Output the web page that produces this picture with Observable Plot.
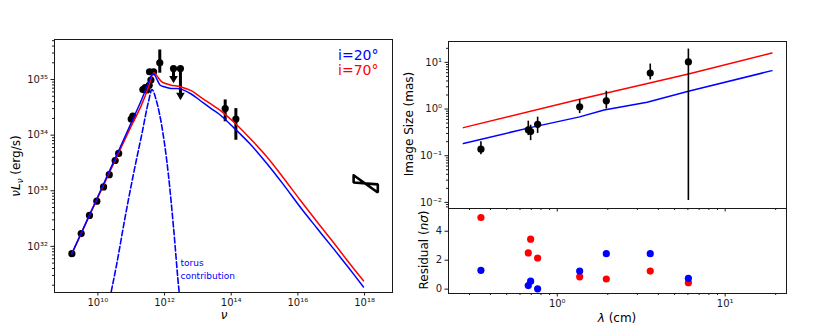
<!DOCTYPE html>
<html><head><meta charset="utf-8">
<script src="https://cdn.jsdelivr.net/npm/d3@7"></script>
<script src="https://cdn.jsdelivr.net/npm/@observablehq/plot@0.6"></script>
<style>
body{margin:0;background:#fff;}
#wrap{position:relative;width:830px;height:329px;overflow:hidden;background:#fff;}
#wrap svg{position:absolute;overflow:visible;}
</style></head><body><div id="wrap"></div>
<script>
// ---------- Left panel: SED ----------
const sedNu = [1.66e9, 3.16e9, 5.6e9, 9.3e9, 1.48e10, 2.2e10, 3.3e10, 4.2e10, 1.0e11, 1.12e11, 2.24e11, 2.63e11, 2.95e11, 3.47e11, 3.9e11, 3.55e11, 4.7e11, 7.2e11, 6.6e13, 1.38e14];
const sedL  = [7.4e31, 1.7e32, 3.6e32, 6.5e32, 1.17e33, 1.95e33, 3.5e33, 4.7e33, 1.95e34, 2.2e34, 6.6e34, 7.2e34, 6.5e34, 7.9e34, 9.8e34, 1.38e35, 1.38e35, 2.0e35, 3.0e34, 1.95e34];
const errNu = [7.2e11, 6.6e13, 1.38e14];
const errLo = [1.3e35, 1.74e34, 8.1e33];
const errHi = [3.4e35, 4.3e34, 3.0e34];
const limNu = [1.86e12, 3.0e12];
const limL = [1.58e35, 1.58e35];
const limTip = [1.05e35, 5.2e34];
const xrayNu = [4.7e17, 2.5e18];
const xrayHi = [1.9e33, 1.30e33];
const xrayLo = [1.41e33, 9.3e32];
const mod20Nu = [1.66e9, 1e10, 3.16e10, 1e11, 2e11, 3.16e11, 4.37e11, 5.0e11, 5.75e11, 7.41e11, 1e12, 1.58e12, 2.95e12, 6.3e12, 1.17e13, 2.5e13, 4.68e13, 1.17e14, 3.7e14, 1.17e15, 3.7e15, 1.17e16, 3.7e16, 1.17e17, 3.16e17, 9.3e17];
const mod20L  = [7.4e31, 7.9e32, 3.6e33, 1.66e34, 4.2e34, 8.3e34, 1.26e35, 1.22e35, 1.05e35, 7.9e34, 7.4e34, 6.9e34, 6.8e34, 5.5e34, 4.2e34, 3.0e34, 2.3e34, 1.38e34, 6.9e33, 3.1e33, 1.29e33, 5.1e32, 2.14e32, 9.1e31, 4.3e31, 1.86e31];
const mod70Nu = [1.66e9, 1e10, 3.16e10, 1e11, 2e11, 3.16e11, 4.17e11, 4.79e11, 5.89e11, 8.3e11, 1.48e12, 2.95e12, 6.3e12, 1.17e13, 2.5e13, 4.68e13, 1.17e14, 3.7e14, 1.17e15, 3.7e15, 1.17e16, 3.7e16, 1.17e17, 3.16e17, 9.3e17];
const mod70L  = [7.4e31, 7.6e32, 3.35e33, 1.45e34, 3.4e34, 6.8e34, 1.15e35, 1.32e35, 1.17e35, 9.1e34, 8.0e34, 7.4e34, 6.3e34, 4.9e34, 3.6e34, 2.8e34, 1.74e34, 8.7e33, 4.1e33, 1.7e33, 6.8e32, 2.8e32, 1.17e32, 5.4e31, 2.4e31];
const torusNu = [2.0e10, 3.7e10, 6.6e10, 1.17e11, 2.1e11, 3.3e11, 4.2e11, 5.6e11, 9.0e11, 1.3e12, 1.86e12, 2.75e12, 3.5e12];
const torusL  = [8e30, 4.9e31, 3.4e32, 2.0e33, 1.07e34, 4.0e34, 6.6e34, 4.3e34, 1.07e34, 2.0e33, 2.2e32, 1.5e31, 5e30];
const leftXTicks = [1e10, 1e12, 1e14, 1e16, 1e18];
const leftYTicks = [1e32, 1e33, 1e34, 1e35];
const legendLabels = ["i=20°", "i=70°"];
const torusLabel = "torus\ncontribution";

// ---------- Right panel: image size & residuals ----------
const lam = [0.351, 0.672, 0.694, 0.764, 1.36, 1.96, 3.58, 6.04];
const size = [0.138, 0.36, 0.33, 0.47, 1.12, 1.5, 5.9, 10.2];
const sizeLo = [0.105, 0.27, 0.21, 0.30, 0.80, 1.0, 4.2, 0.011];
const sizeHi = [0.20, 0.55, 0.45, 0.67, 1.6, 2.4, 9.2, 19.3];
const resid70 = [4.95, 2.5, 3.45, 2.15, 0.85, 0.7, 1.25, 0.45];
const resid20 = [1.3, 0.25, 0.55, 0.02, 1.25, 2.45, 2.45, 0.75];
const size70Lam = [0.276, 1.36, 6.04, 19];
const size70 = [0.40, 1.62, 5.65, 15.9];
const size20Lam = [0.276, 0.69, 1.36, 1.9, 3.43, 6.04, 19];
const size20 = [0.183, 0.40, 0.68, 0.95, 1.40, 2.4, 6.65];
const rightXTicks = [1, 10];
const sizeYTicks = [0.01, 0.1, 1, 10];
const residYTicks = [0, 2, 4];

const RED = "#ff0000", BLUE = "#0000ff", INK = "#1a1a1a";
const supMap = {"0":"⁰","1":"¹","2":"²","3":"³","4":"⁴","5":"⁵","6":"⁶","7":"⁷","8":"⁸","9":"⁹","-":"⁻"};
const pow10 = d => "10" + String(Math.round(Math.log10(d))).split("").map(c => supMap[c]).join("");
function minors(lo, hi) {
  const out = [];
  for (let e = Math.floor(Math.log10(lo)); e <= Math.ceil(Math.log10(hi)); e++)
    for (let k = 2; k <= 9; k++) { const v = k * Math.pow(10, e); if (v >= lo && v <= hi) out.push(v); }
  return out;
}
const zip = (xs, ys) => xs.map((x, i) => ({x, y: ys[i]}));
const style = {fontFamily: "DejaVu Sans", fontSize: "10px", color: INK, background: "transparent"};

// Left
const lxDom = [5.0e8, 6.9e18], lyDom = [1.48e31, 5.25e35];
const bow = [
  {x: xrayNu[0], y: xrayHi[0]}, {x: xrayNu[1], y: xrayLo[1]},
  {x: xrayNu[1], y: xrayHi[1]}, {x: xrayNu[0], y: xrayLo[0]}, {x: xrayNu[0], y: xrayHi[0]}
];
const sedPlot = Plot.plot({
  width: 400, height: 329, marginLeft: 54, marginRight: 8, marginTop: 39, marginBottom: 37,
  style,
  x: {type: "log", domain: lxDom},
  y: {type: "log", domain: lyDom},
  marks: [
    Plot.ruleX(errNu.map((x, i) => ({x, y1: errLo[i], y2: errHi[i]})), {x: "x", y1: "y1", y2: "y2", stroke: "black", strokeWidth: 3}),
    Plot.ruleX(limNu.map((x, i) => ({x, y1: limTip[i], y2: limL[i]})), {x: "x", y1: "y1", y2: "y2", stroke: "black", strokeWidth: 3}),
    Plot.dot(zip(limNu, limTip), {x: "x", y: "y", symbol: "triangle", rotate: 180, r: 3.2, fill: "black"}),
    Plot.dot(zip(limNu, limL), {x: "x", y: "y", r: 3.6, fill: "black"}),
    Plot.dot(zip(sedNu, sedL), {x: "x", y: "y", r: 3.6, fill: "black"}),
    Plot.line(bow, {x: "x", y: "y", stroke: "black", strokeWidth: 2.6, strokeLinejoin: "miter"}),
    Plot.line(zip(torusNu, torusL), {x: "x", y: "y", stroke: BLUE, strokeWidth: 1.6, strokeDasharray: "5.5,2.6", curve: "monotone-x", clip: true}),
    Plot.line(zip(mod70Nu, mod70L), {x: "x", y: "y", stroke: RED, strokeWidth: 1.5, curve: "catmull-rom"}),
    Plot.line(zip(mod20Nu, mod20L), {x: "x", y: "y", stroke: BLUE, strokeWidth: 1.5, curve: "catmull-rom"}),
    Plot.text([torusLabel], {x: 3.0e12, y: 4.0e31, text: d => d, textAnchor: "start", lineAnchor: "middle", fill: BLUE, fontSize: 9, lineHeight: 1.45}),
    Plot.text([legendLabels[0]], {frameAnchor: "top-right", dx: -14, dy: 11, text: d => d, fill: BLUE, fontSize: 14, textAnchor: "end"}),
    Plot.text([legendLabels[1]], {frameAnchor: "top-right", dx: -14, dy: 26, text: d => d, fill: RED, fontSize: 14, textAnchor: "end"}),
    Plot.frame({stroke: INK, strokeWidth: 1}),
    Plot.axisX({ticks: leftXTicks, tickFormat: pow10, tickSize: 3.5, tickPadding: 2.5, label: null}),
    Plot.axisY({ticks: leftYTicks, tickFormat: pow10, tickSize: 3.5, tickPadding: 3, label: null}),
    Plot.axisY({ticks: minors(lyDom[0], lyDom[1]), tickFormat: () => "", tickSize: 2, label: null})
  ]
});
sedPlot.style.left = "0px"; sedPlot.style.top = "0px";

// Right bottom (residuals)
const rxDom = [0.225, 23.2];
const residPlot = Plot.plot({
  width: 430, height: 122, marginLeft: 48, marginRight: 44, marginTop: 1, marginBottom: 36,
  style,
  x: {type: "log", domain: rxDom},
  y: {domain: [-0.3, 5.57]},
  marks: [
    Plot.dot(zip(lam, resid70), {x: "x", y: "y", r: 3.6, fill: RED}),
    Plot.dot(zip(lam, resid20), {x: "x", y: "y", r: 3.6, fill: BLUE}),
    Plot.frame({stroke: INK, strokeWidth: 1}),
    Plot.axisX({ticks: rightXTicks, tickFormat: pow10, tickSize: 3.5, tickPadding: 2.5, label: null}),
    Plot.axisX({ticks: minors(rxDom[0], rxDom[1]), tickFormat: () => "", tickSize: 2, label: null}),
    Plot.axisY({ticks: residYTicks, tickFormat: d => String(d), tickSize: 3.5, tickPadding: 3, label: null})
  ]
});
residPlot.style.left = "400px"; residPlot.style.top = "207px";

// Right top (image size)
const syDom = [0.0074, 28];
const sizeData = lam.map((x, i) => ({x, y: size[i], y1: sizeLo[i], y2: sizeHi[i]}));
const sizePlot = Plot.plot({
  width: 430, height: 208, marginLeft: 48, marginRight: 44, marginTop: 41, marginBottom: 0,
  style,
  x: {type: "log", domain: rxDom},
  y: {type: "log", domain: syDom},
  marks: [
    Plot.line(zip(size70Lam, size70), {x: "x", y: "y", stroke: RED, strokeWidth: 1.5}),
    Plot.line(zip(size20Lam, size20), {x: "x", y: "y", stroke: BLUE, strokeWidth: 1.5}),
    Plot.ruleX(sizeData, {x: "x", y1: "y1", y2: "y2", stroke: "black", strokeWidth: 1.6}),
    Plot.dot(sizeData, {x: "x", y: "y", r: 3.6, fill: "black"}),
    Plot.frame({stroke: INK, strokeWidth: 1}),
    Plot.axisX({ticks: rightXTicks, tickFormat: () => "", tickSize: 3.5, label: null}),
    Plot.axisX({ticks: minors(rxDom[0], rxDom[1]), tickFormat: () => "", tickSize: 2, label: null}),
    Plot.axisY({ticks: sizeYTicks, tickFormat: pow10, tickSize: 3.5, tickPadding: 3, label: null}),
    Plot.axisY({ticks: minors(syDom[0], syDom[1]), tickFormat: () => "", tickSize: 2, label: null})
  ]
});
sizePlot.style.left = "400px"; sizePlot.style.top = "0px";

const wrap = document.getElementById("wrap");
wrap.append(sedPlot, residPlot, sizePlot);

// Axis titles (with math styling)
const lab = d3.create("svg").attr("width", 830).attr("height", 329)
  .style("left", "0px").style("top", "0px")
  .attr("font-family", "DejaVu Sans").attr("font-size", 12).attr("fill", "black");
function rotLabel(x, y, build) {
  const t = lab.append("text").attr("transform", `translate(${x},${y}) rotate(-90)`).attr("text-anchor", "middle");
  build(t);
}
rotLabel(20, 166, t => {
  t.append("tspan").attr("font-style", "italic").text("νL");
  t.append("tspan").attr("font-style", "italic").attr("font-size", 8.5).attr("dy", 2.5).text("ν");
  t.append("tspan").attr("dy", -2.5).text(" (erg/s)");
});
rotLabel(413, 124, t => t.text("Image Size (mas)"));
rotLabel(428, 250, t => {
  t.append("tspan").text("Residual (");
  t.append("tspan").attr("font-style", "italic").text("nσ");
  t.append("tspan").text(")");
});
lab.append("text").attr("x", 224).attr("y", 319).attr("text-anchor", "middle").attr("font-style", "italic").text("ν");
const lt = lab.append("text").attr("x", 617).attr("y", 322).attr("text-anchor", "middle");
lt.append("tspan").attr("font-style", "italic").text("λ");
lt.append("tspan").text(" (cm)");
wrap.append(lab.node());
</script></body></html>
